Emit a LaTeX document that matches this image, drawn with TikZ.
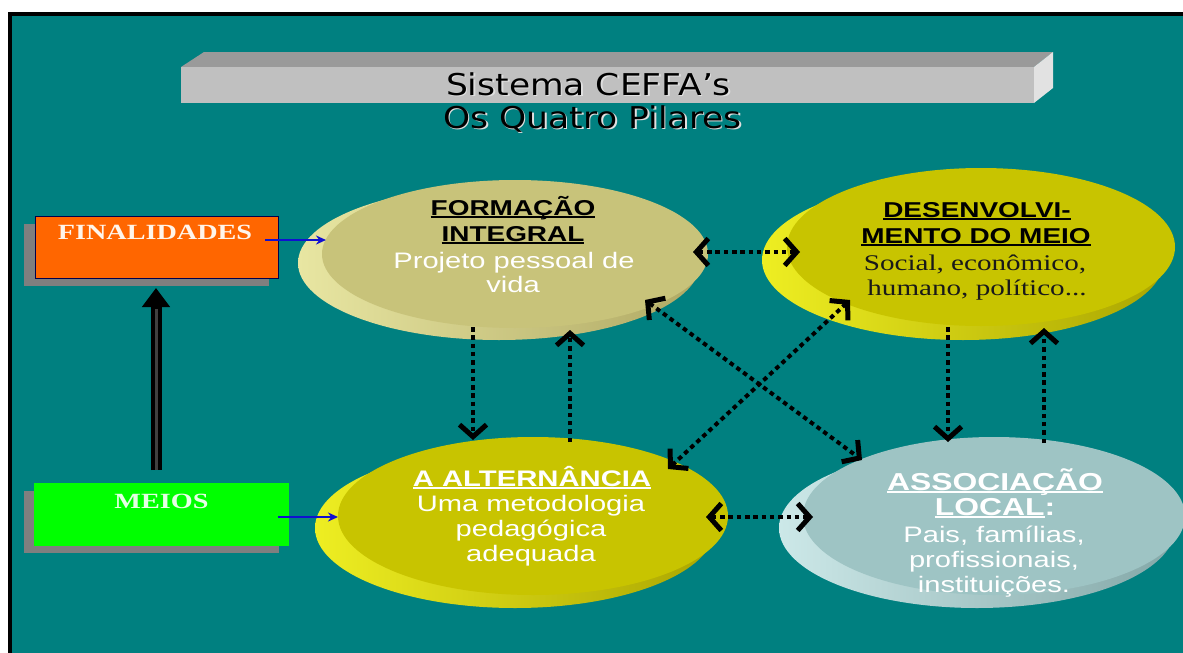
\documentclass[tikz,border=0pt]{standalone}
\usepackage{fontspec}
\usetikzlibrary{arrows.meta,shapes.geometric}
\newfontfamily\elsans[FakeStretch=1.3]{Liberation Sans}
\newfontfamily\elserif[FakeStretch=1.3]{Liberation Serif}
\newfontfamily\ttlfont[FakeStretch=1.15]{DejaVu Sans}
\definecolor{bgteal}{HTML}{008080}
\definecolor{barTop}{HTML}{9A9A9A}
\definecolor{barFront}{HTML}{C0C0C0}
\definecolor{barSide}{HTML}{E2E2E2}
\definecolor{finOrange}{HTML}{FF6600}
\definecolor{meiGreen}{HTML}{00FF00}
\definecolor{shadowGray}{HTML}{7F7F7F}
\definecolor{faceA}{HTML}{C8C37A}
\definecolor{rimAl}{HTML}{E8E6A2}
\definecolor{rimAd}{HTML}{B0A964}
\definecolor{faceB}{HTML}{C8C400}
\definecolor{rimBl}{HTML}{EEEE22}
\definecolor{rimBd}{HTML}{ABA600}
\definecolor{faceD}{HTML}{9EC4C4}
\definecolor{rimDl}{HTML}{CCE8E8}
\definecolor{rimDd}{HTML}{84A8A8}
\definecolor{arrBlue}{HTML}{1010D0}
\newcommand\ulin[1]{\setbox0\hbox{#1}\rlap{\rule[-3pt]{\wd0}{1.8pt}}\box0}
\begin{document}
\begin{tikzpicture}[x=1pt,y=-1pt,
  >={Straight Barb[length=12pt,width=27pt,line width=5pt]},
  dotarr/.style={line width=4pt, dash pattern=on 4.5pt off 3.8pt, black},
  bluearr/.style={arrBlue, line width=2pt, -{Stealth[length=10pt,width=9pt]}},
  face/.style={ellipse, inner sep=0pt},
  head/.style={anchor=base, inner sep=0pt, font=\elsans\bfseries\fontsize{21.5}{24}\selectfont},
  bigh/.style={anchor=base, inner sep=0pt, font=\elsans\bfseries\fontsize{24.5}{27}\selectfont},
  body/.style={anchor=base, inner sep=0pt, font=\elsans\fontsize{22.4}{25}\selectfont},
  sbody/.style={anchor=base, inner sep=0pt, font=\elserif\fontsize{22.4}{25}\selectfont, text=black!90},
  boxlbl/.style={anchor=base, inner sep=0pt, font=\elserif\bfseries\fontsize{21.7}{24}\selectfont},
  ttl/.style={anchor=base, inner sep=0pt, font=\ttlfont\fontsize{30}{33}\selectfont}]
\useasboundingbox (0,0) rectangle (1183,653);
\fill[white] (0,0) rectangle (1183,653);
\fill[bgteal] (9.5,13.5) rectangle (1183,653);
\draw[black, line width=4pt] (9.5,653) -- (9.5,13.5) -- (1183,13.5);

% title bar
\fill[barTop] (181,67) -- (204,52) -- (1053,52) -- (1034,67) -- cycle;
\fill[barFront] (181,67) rectangle (1034,103);
\fill[barSide] (1034,67) -- (1053,52) -- (1053,88) -- (1034,103) -- cycle;
\node[ttl, text=white!75!gray] at (590,96.5) {Sistema CEFFA’s};
\node[ttl] (t1) at (588.5,95) {Sistema CEFFA’s};
\node[ttl, text=white!75!gray] at (594,129.5) {Os Quatro Pilares};
\node[ttl] (t2) at (592.5,128) {Os Quatro Pilares};

% left boxes
\fill[shadowGray] (24,224) rectangle (269,286);
\node[draw=black!70!blue, line width=0.8pt, fill=finOrange, minimum width=243pt, minimum height=62pt, inner sep=0pt] (fin) at (156.5,247) {};
\node[boxlbl, text=white!92!orange] (finl) at (155,239) {FINALIDADES};
\fill[shadowGray] (24,491) rectangle (279,553);
\node[fill=meiGreen, minimum width=255pt, minimum height=63pt, inner sep=0pt] (mei) at (161.5,514.5) {};
\node[boxlbl, text=white!90!green] (meil) at (161.5,508) {MEIOS};

% ellipses: rims then faces
\shade[left color=rimAl, right color=rimAd] (499,263) ellipse [x radius=201, y radius=77];
\node[face, fill=faceA, minimum width=386pt, minimum height=148pt] (fi) at (515,254) {};
\shade[left color=rimBl, right color=rimBd] (963,260) ellipse [x radius=201, y radius=80];
\node[face, fill=faceB, minimum width=388pt, minimum height=158pt] (dm) at (981,247) {};
\shade[left color=rimBl, right color=rimBd] (515,528) ellipse [x radius=200, y radius=80];
\node[face, fill=faceB, minimum width=390pt, minimum height=158pt] (alt) at (533,516) {};
\shade[left color=rimDl, right color=rimDd] (977,528) ellipse [x radius=198, y radius=80];
\node[face, fill=faceD, minimum width=382pt, minimum height=158pt] (al) at (994,516) {};

% connector end points
\coordinate (fiR) at (693,252);  \coordinate (dmL) at (800,252);
\coordinate (fiB) at (473,327);  \coordinate (altT) at (473,440);
\coordinate (altU) at (570,442); \coordinate (fiU) at (570,330);
\coordinate (fiD) at (645,300);  \coordinate (alD) at (862,460);
\coordinate (altD) at (668,469); \coordinate (dmD) at (850,300);
\coordinate (altR) at (706,517); \coordinate (alL) at (813,517);
\coordinate (dmB) at (948,327);  \coordinate (alT) at (948,442);
\coordinate (alU) at (1044,443); \coordinate (dmU) at (1044,328);
\coordinate (finR) at (265,240); \coordinate (fiL) at (326,240);
\coordinate (meiR) at (278,517); \coordinate (altL) at (338,517);
\coordinate (meiT) at (156,470); \coordinate (finB) at (156,288);

% connectors
\draw[dotarr, <->] (fiR) -- (dmL);
\draw[dotarr, ->] (fiB) -- (altT);
\draw[dotarr, ->] (altU) -- (fiU);
\draw[dotarr, <->] (fiD) -- (alD);
\draw[dotarr, <->] (altD) -- (dmD);
\draw[dotarr, <->] (altR) -- (alL);
\draw[dotarr, ->] (dmB) -- (alT);
\draw[dotarr, ->] (alU) -- (dmU);
\draw[bluearr] (finR) -- (fiL);
\draw[bluearr] (meiR) -- (altL);
\draw[black, line width=11pt, -{Triangle[length=19pt,width=27pt]}] (meiT) -- (finB);
\draw[black!75, line width=3pt] (meiT) -- (156,309);

% texts
\node[head] at (513,215) {\ulin{FORMAÇÃO}};
\node[head] at (513,241) {\ulin{INTEGRAL}};
\node[body, text=white] at (514,268) {Projeto pessoal de};
\node[body, text=white] at (513,292) {vida};

\node[head] at (977,217) {\ulin{DESENVOLVI-}};
\node[head] at (976,243) {\ulin{MENTO DO MEIO}};
\node[sbody] at (975,270) {Social, econômico,};
\node[sbody] at (977,295) {humano, político...};

\node[head, text=white, font=\elsans\bfseries\fontsize{22.5}{25}\selectfont] at (532,486) {\ulin{A ALTERNÂNCIA}};
\node[body, text=white] at (531,511) {Uma metodologia};
\node[body, text=white] at (531,536) {pedagógica};
\node[body, text=white] at (531,561) {adequada};

\node[bigh, text=white] at (995,490) {\ulin{ASSOCIAÇÃO}};
\node[bigh, text=white] at (995,515) {\ulin{LOCAL}:};
\node[body, text=white] at (994,542) {Pais, famílias,};
\node[body, text=white] at (994,567) {profissionais,};
\node[body, text=white] at (994,592) {instituições.};
\end{tikzpicture}
\end{document}
